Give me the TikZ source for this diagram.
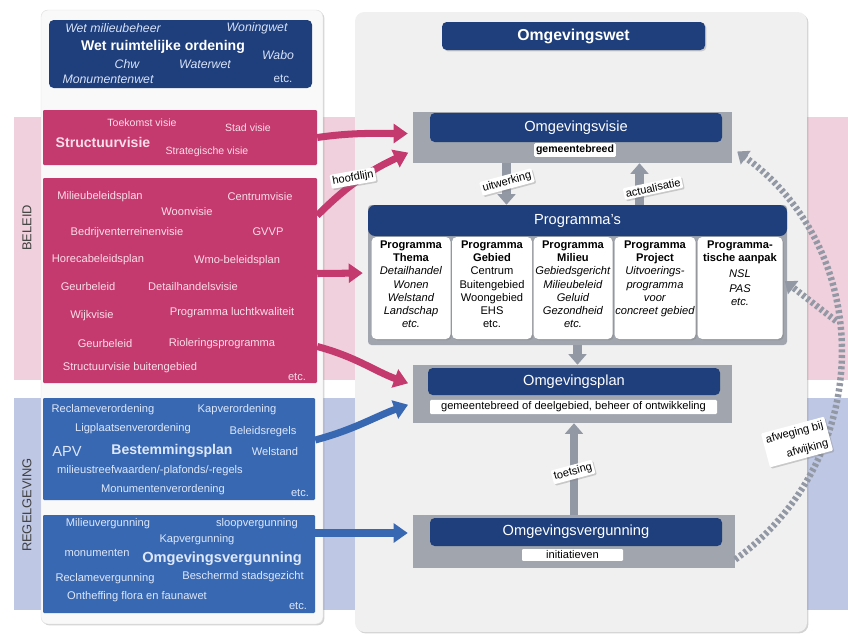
\documentclass[tikz,border=0pt]{standalone}
\usepackage{fontspec}
\setmainfont{Liberation Sans}
\usetikzlibrary{arrows.meta,positioning,shadows}

\definecolor{navy}{RGB}{30,62,124}
\definecolor{beleidrood}{RGB}{196,58,110}
\definecolor{regelblauw}{RGB}{56,104,178}
\definecolor{beleidband}{RGB}{240,208,220}
\definecolor{regelband}{RGB}{190,199,228}
\definecolor{paneel}{RGB}{240,240,241}
\definecolor{linkspaneel}{RGB}{249,249,249}
\definecolor{grijsvak}{RGB}{160,165,174}
\definecolor{pijlgrijs}{RGB}{146,152,164}
\definecolor{roodtekst}{RGB}{250,222,233}
\definecolor{blauwtekst}{RGB}{222,232,250}
\definecolor{wettekst}{RGB}{215,226,248}

\newlength\pu
\setlength\pu{0.03cm}
\newcommand\fsz[2]{\fontsize{#1}{#2}\selectfont}

\begin{document}
\begin{tikzpicture}[x=0.03cm,y=-0.03cm,>={Triangle[length=12pt,width=16pt]}]
\tikzstyle{woord}=[inner sep=0pt]
\tikzstyle{blok}=[rounded corners=4pt,inner sep=0pt]
\tikzstyle{vlak}=[rounded corners=1pt,inner sep=0pt]
\tikzstyle{grijs}=[fill=grijsvak,inner sep=0pt]
\tikzstyle{balk}=[blok,fill=navy,text=white,font=\fsz{12.5}{14}]
\tikzstyle{schaduw}=[drop shadow={opacity=0.35,shadow xshift=1.2pt,shadow yshift=-1.2pt}]
\tikzstyle{etiket}=[fill=white,rounded corners=1pt,inner sep=1.6pt,font=\fsz{9.5}{11}]
\tikzstyle{kolom}=[fill=white,rounded corners=4pt,inner sep=0pt,minimum height=102\pu,schaduw]
\tikzstyle{koltekst}=[inner sep=0pt,align=center,font=\fsz{9.5}{11.2}]
\tikzstyle{roodpijl}=[->,line width=6pt,draw=beleidrood,shorten >=5\pu]
\tikzstyle{blauwpijl}=[->,line width=6pt,draw=regelblauw,shorten >=5\pu]
\tikzstyle{grijspijl}=[-{Triangle[length=9pt,width=15pt]},line width=7pt,draw=pijlgrijs]
\tikzstyle{streep}=[-{Triangle[length=9pt,width=14pt]},line width=5.5pt,draw=pijlgrijs,dash pattern=on 2.6pt off 2.2pt]

\useasboundingbox (0,0) rectangle (848,635);

% banden beleid en regelgeving
\fill[beleidband] (14,117) rectangle (848,380);
\fill[regelband] (14,398) rectangle (848,610);

% panelen
\node[fill=linkspaneel,draw=black!12,rounded corners=6pt,inner sep=0pt,minimum width=282\pu,minimum height=614\pu,schaduw] (links) at (182,317) {};
\node[fill=paneel,rounded corners=8pt,inner sep=0pt,minimum width=452\pu,minimum height=620\pu,schaduw] (rechts) at (581,322) {};

\node[rotate=90,font=\fsz{11}{12},text=black!75] (beleidtxt) at (27,228) {BELEID};
\node[rotate=90,font=\fsz{11}{12},text=black!75] (regeltxt) at (27,505) {REGELGEVING};

% huidige instrumenten
\node[blok,fill=navy,minimum width=263\pu,minimum height=68\pu] (wetten) at (180.5,54) {};
\node[vlak,fill=beleidrood,minimum width=274\pu,minimum height=55\pu] (visies) at (180,137.5) {};
\node[vlak,fill=beleidrood,minimum width=274\pu,minimum height=205\pu] (beleid) at (180,280.5) {};
\node[vlak,fill=regelblauw,minimum width=272\pu,minimum height=102\pu] (verord) at (179,449) {};
\node[vlak,fill=regelblauw,minimum width=272\pu,minimum height=98\pu] (vergun) at (179,564) {};

\foreach \x/\y/\t [count=\i] in {113/28/Wet milieubeheer, 257/28/Woningwet, 278/55/Wabo,
    127/64/Chw, 205/64/Waterwet, 108/79/Monumentenwet}
  \node[woord,text=wettekst,font=\fsz{10.5}{12}\itshape] (wt\i) at (\x,\y) {\t};
\node[woord,text=white,font=\fsz{12}{14}\bfseries] (wro) at (163,47) {Wet ruimtelijke ordening};
\node[woord,text=wettekst,font=\fsz{10}{12}] (wtetc) at (283,79) {etc.};

\foreach \x/\y/\t [count=\i] in {142/123/Toekomst visie, 248/128/Stad visie, 207/152/Strategische visie}
  \node[woord,text=roodtekst,font=\fsz{9}{11}] (sv\i) at (\x,\y) {\t};
\node[woord,text=roodtekst,font=\fsz{12}{14}\bfseries] (structuur) at (103,142) {Structuurvisie};

\foreach \x/\y/\t [count=\i] in {100/197/Milieubeleidsplan, 260/197/Centrumvisie, 187/212/Woonvisie,
    127/233/Bedrijventerreinenvisie, 268/232/GVVP, 98/260/Horecabeleidsplan, 237/261/Wmo-beleidsplan,
    88/287/Geurbeleid, 193/287/Detailhandelsvisie, 92/316/Wijkvisie, 232/313/Programma luchtkwaliteit,
    105/344/Geurbeleid, 222/344/Rioleringsprogramma, 130/368/Structuurvisie buitengebied, 297/377/etc.}
  \node[woord,text=roodtekst,font=\fsz{9.5}{11}] (bp\i) at (\x,\y) {\t};

\foreach \x/\y/\t [count=\i] in {103/410/Reclameverordening, 237/410/Kapverordening,
    133/429/Ligplaatsenverordening, 263/432/Beleidsregels, 275/452/Welstand,
    150/471/{milieustreefwaarden/-plafonds/-regels}, 163/490/Monumentenverordening, 300/493/etc.}
  \node[woord,text=blauwtekst,font=\fsz{9.5}{11}] (vo\i) at (\x,\y) {\t};
\node[woord,text=blauwtekst,font=\fsz{12.5}{14}] (apv) at (67,451) {APV};
\node[woord,text=blauwtekst,font=\fsz{12}{14}\bfseries] (bestplan) at (172,451) {Bestemmingsplan};

\foreach \x/\y/\t [count=\i] in {108/524/Milieuvergunning, 257/524/sloopvergunning, 197/540/Kapvergunning,
    97/553/monumenten, 105/579/Reclamevergunning, 243/577/Beschermd stadsgezicht,
    137/597/Ontheffing flora en faunawet, 298/606/etc.}
  \node[woord,text=blauwtekst,font=\fsz{9.5}{11}] (vg\i) at (\x,\y) {\t};
\node[woord,text=blauwtekst,font=\fsz{12.5}{14}\bfseries] (omgvg) at (222,559) {Omgevingsvergunning};

% omgevingswet
\node[balk,font=\fsz{13.5}{15}\bfseries,minimum width=263\pu,minimum height=28\pu,schaduw] (wet) at (573.5,36) {Omgevingswet};

\node[grijs,minimum width=319\pu,minimum height=51\pu] (visiegrp) at (572.5,137.5) {};
\node[balk,minimum width=292\pu,minimum height=29\pu] (visie) at (576,127.5) {Omgevingsvisie};
\node[etiket,font=\fsz{9}{11}\bfseries] (visielab) at (575,150) {gemeentebreed};

\node[grijs,rounded corners=3pt,minimum width=419\pu,minimum height=140\pu] (prog) at (577.5,275) {};
\node[balk,rounded corners=6pt,minimum width=419\pu,minimum height=31\pu] (proghead) at (577.5,220.5) {Programma's};
\node[kolom,minimum width=79\pu] (c1) at (411,288) {};
\node[kolom,minimum width=80\pu] (c2) at (492,288) {};
\node[kolom,minimum width=79\pu] (c3) at (573,288) {};
\node[kolom,minimum width=81\pu] (c4) at (655,288) {};
\node[kolom,minimum width=85\pu] (c5) at (740,288) {};
\node[koltekst,anchor=north] (t1) at ([yshift=-4\pu]c1.north)
  {\textbf{Programma}\\\textbf{Thema}\\\textit{Detailhandel}\\\textit{Wonen}\\\textit{Welstand}\\\textit{Landschap}\\\textit{etc.}};
\node[koltekst,anchor=north] (t2) at ([yshift=-4\pu]c2.north)
  {\textbf{Programma}\\\textbf{Gebied}\\Centrum\\Buitengebied\\Woongebied\\EHS\\etc.};
\node[koltekst,anchor=north] (t3) at ([yshift=-4\pu]c3.north)
  {\textbf{Programma}\\\textbf{Milieu}\\\textit{Gebiedsgericht}\\\textit{Milieubeleid}\\\textit{Geluid}\\\textit{Gezondheid}\\\textit{etc.}};
\node[koltekst,anchor=north] (t4) at ([yshift=-4\pu]c4.north)
  {\textbf{Programma}\\\textbf{Project}\\\textit{Uitvoerings-}\\\textit{programma}\\\textit{voor}\\\textit{concreet gebied}};
\node[koltekst,anchor=north] (t5) at ([yshift=-4\pu]c5.north)
  {\textbf{Programma-}\\\textbf{tische aanpak}\\[2pt]\textit{NSL}\\[2pt]\textit{PAS}\\\textit{etc.}};

\node[grijs,minimum width=319\pu,minimum height=58\pu] (plangrp) at (572.5,394) {};
\node[balk,minimum width=292\pu,minimum height=27\pu] (plan) at (574,381.5) {Omgevingsplan};
\node[etiket,minimum width=287\pu] (planlab) at (573.5,407) {gemeentebreed of deelgebied, beheer of ontwikkeling};

\node[grijs,minimum width=322\pu,minimum height=53\pu] (vergrp) at (574,541.5) {};
\node[balk,minimum width=292\pu,minimum height=28\pu] (verg) at (576,532) {Omgevingsvergunning};
\node[etiket,minimum width=101\pu] (verglab) at (572.5,555) {initiatieven};

% verbanden binnen de omgevingswet
\draw[grijspijl] ([xshift=-66\pu]visiegrp.south) -- ([xshift=-66\pu]visiegrp.south |- prog.north);
\draw[grijspijl] ([xshift=67\pu]visiegrp.south |- prog.north) -- ([xshift=67\pu]visiegrp.south);
\draw[grijspijl] (prog.south) -- (prog.south |- plangrp.north);
\draw[grijspijl] (vergrp.north) -- (vergrp.north |- plangrp.south);
\node[etiket,rotate=15,schaduw] (uitw) at (507,182) {uitwerking};
\node[etiket,rotate=12,schaduw] (actu) at (653,188) {actualisatie};
\node[etiket,rotate=15,schaduw] (toets) at (573,472) {toetsing};

% van huidige instrumenten naar de omgevingswet
\draw[roodpijl] (visies.east) to[out=8,in=180] ([yshift=4\pu]visiegrp.west);
\draw[roodpijl] ([yshift=65\pu]beleid.east) to[out=45,in=205] ([yshift=-13\pu]visiegrp.west);
\draw[roodpijl] ([yshift=7\pu]beleid.east) -- ([yshift=2\pu]prog.west);
\draw[roodpijl] ([yshift=-66\pu]beleid.east) to[out=-15,in=160] ([yshift=9\pu]plangrp.west);
\draw[blauwpijl] ([yshift=9\pu]verord.east) to[out=15,in=200] ([yshift=-9\pu]plangrp.west);
\draw[blauwpijl] ([yshift=31\pu]vergun.east) -- ([yshift=8.5\pu]vergrp.west);
\node[etiket,rotate=10,schaduw] (hoofd) at (353,178) {hoofdlijn};

% afweging bij afwijking
\coordinate (tak) at (836,321);
\draw[streep] ([yshift=-18\pu]vergrp.east) to[out=36,in=-36,looseness=1.08] ([xshift=5\pu,yshift=-14\pu]visiegrp.east);
\draw[streep,shorten >=-3\pu] (tak) -- ([yshift=-8\pu]prog.east);
\node[etiket,rotate=15,align=center,inner sep=2.5pt,font=\fsz{9.5}{12},schaduw] (afw) at (797,442) {afweging bij\\[4pt]\hspace*{1.5em}afwijking};
\end{tikzpicture}
\end{document}
